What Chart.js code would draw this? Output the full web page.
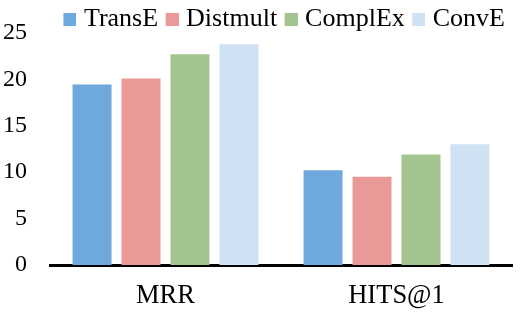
<!DOCTYPE html>
<html>
<head>
<meta charset="utf-8">
<script src="https://cdn.jsdelivr.net/npm/chart.js@4.4.1/dist/chart.umd.min.js"></script>
<style>
  html, body { margin: 0; padding: 0; background: #fff; }
  #wrap { width: 521px; height: 314px; }
</style>
</head>
<body>
<div id="wrap"><canvas id="chart"></canvas></div>
<script>
// data
var categories = ["MRR", "HITS@1"];
var seriesNames = ["TransE", "Distmult", "ComplEx", "ConvE"];
var transE   = [19.45, 10.2];
var distmult = [20.1, 9.5];
var complEx  = [22.7, 11.9];
var convE    = [23.8, 13.0];
var yTicks   = [0, 5, 10, 15, 20, 25];

var colors = ["#6fa8dc", "#ea9999", "#a3c48f", "#cfe2f3"];
var allValues = [transE, distmult, complEx, convE];

var serif = "'Liberation Serif', 'Times New Roman', serif";

// legend swatch: square sits at the right of a wider image so the
// label text comes closer to it than chart.js would put it
function swatch(color) {
  var c = document.createElement('canvas');
  c.width = 19;
  c.height = 13;
  var g = c.getContext('2d');
  g.fillStyle = color;
  g.fillRect(6, 0, 13, 13);
  return c;
}
var swatches = colors.map(swatch);

var datasets = seriesNames.map(function(name, i) {
  return {
    label: name,
    data: allValues[i],
    backgroundColor: colors[i],
    borderWidth: 0,
    categoryPercentage: 0.848,
    barPercentage: 0.796
  };
});

new Chart(document.getElementById("chart"), {
  type: 'bar',
  data: { labels: categories, datasets: datasets },
  options: {
    responsive: true,
    maintainAspectRatio: false,
    animation: false,
    layout: { padding: { left: 3, right: 9, top: -1, bottom: 0 } },
    plugins: {
      tooltip: { enabled: false },
      legend: {
        position: 'top',
        align: 'end',
        maxHeight: 34,
        labels: {
          usePointStyle: true,
          pointStyleWidth: 8,
          boxHeight: 13,
          padding: 7,
          color: '#000',
          font: { family: serif, size: 26 },
          generateLabels: function(chart) {
            var items = Chart.defaults.plugins.legend.labels.generateLabels(chart);
            items.forEach(function(it, i) { it.pointStyle = swatches[i]; });
            return items;
          }
        }
      }
    },
    scales: {
      x: {
        grid: { display: false, drawTicks: false },
        border: { display: true, color: '#000', width: 3 },
        ticks: { color: '#000', padding: 15, font: { family: serif, size: 26.5 } },
        afterFit: function(scale) { scale.height = 49; }
      },
      y: {
        min: 0,
        max: 25,
        grid: { display: false, drawTicks: false },
        border: { display: false },
        afterBuildTicks: function(scale) {
          scale.ticks = yTicks.map(function(v) { return { value: v }; });
        },
        ticks: { color: '#000', padding: 23, font: { family: serif, size: 24 } },
        afterFit: function(scale) {
          scale.width = 47;
          scale.paddingTop = 15;
          scale.paddingBottom = 15;
        }
      }
    }
  }
});
</script>
</body>
</html>
